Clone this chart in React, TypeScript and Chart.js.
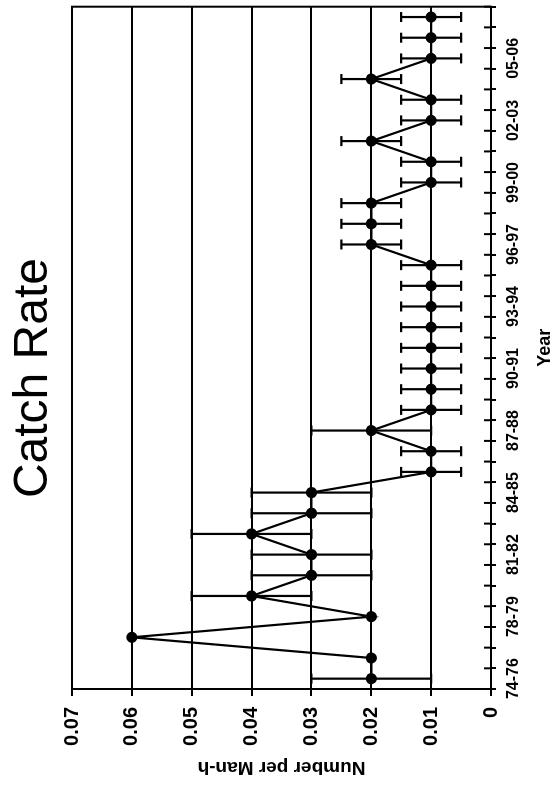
import React, { useEffect, useRef } from 'react';
import { Chart, registerables } from 'chart.js';

Chart.register(...registerables);

const TITLE = 'Catch Rate';
const X_TITLE = 'Year';
const Y_TITLE = 'Number per Man-h';

const categories = [
  '74-76', '76-77', '77-78', '78-79', '79-80', '80-81', '81-82', '82-83', '83-84', '84-85',
  '85-86', '86-87', '87-88', '88-89', '89-90', '90-91', '91-92', '92-93', '93-94', '94-95',
  '95-96', '96-97', '97-98', '98-99', '99-00', '00-01', '01-02', '02-03', '03-04', '04-05',
  '05-06', '06-07', '07-08',
];

const catchRate = [
  0.02, 0.02, 0.06, 0.02, 0.04, 0.03, 0.03, 0.04, 0.03, 0.03,
  0.01, 0.01, 0.02, 0.01, 0.01, 0.01, 0.01, 0.01, 0.01, 0.01,
  0.01, 0.02, 0.02, 0.02, 0.01, 0.01, 0.02, 0.01, 0.01, 0.02,
  0.01, 0.01, 0.01,
];

const errorHalf = [
  0.01, 0, 0, 0, 0.01, 0.01, 0.01, 0.01, 0.01, 0.01,
  0.005, 0.005, 0.01, 0.005, 0.005, 0.005, 0.005, 0.005, 0.005, 0.005,
  0.005, 0.005, 0.005, 0.005, 0.005, 0.005, 0.005, 0.005, 0.005, 0.005,
  0.005, 0.005, 0.005,
];

const valueTickLabels = ['0', '0.01', '0.02', '0.03', '0.04', '0.05', '0.06', '0.07'];

const FONT = '"Liberation Sans", Arial, Helvetica, sans-serif';

export default function App() {
  const ref = useRef<HTMLCanvasElement>(null);

  useEffect(() => {
    const canvas = ref.current;
    if (!canvas) return;

    const framePlugin = {
      id: 'frame',
      beforeDatasetsDraw(chart: any) {
        const { ctx, chartArea } = chart;
        ctx.save();
        ctx.strokeStyle = '#000';
        ctx.lineWidth = 2;
        ctx.strokeRect(chartArea.left, chartArea.top, chartArea.right - chartArea.left, chartArea.bottom - chartArea.top);
        ctx.restore();
      },
    };

    const errorBarPlugin = {
      id: 'errorBars',
      beforeDatasetsDraw(chart: any) {
        const { ctx } = chart;
        const xs = chart.scales.x;
        const ys = chart.scales.y;
        ctx.save();
        ctx.strokeStyle = '#000';
        ctx.lineWidth = 2.2;
        const cap = 5;
        catchRate.forEach((v, i) => {
          const e = errorHalf[i];
          if (!e) return;
          const x = xs.getPixelForValue(i);
          const y1 = ys.getPixelForValue(v - e);
          const y2 = ys.getPixelForValue(v + e);
          ctx.beginPath();
          ctx.moveTo(x, y1);
          ctx.lineTo(x, y2);
          ctx.moveTo(x - cap, y1);
          ctx.lineTo(x + cap, y1);
          ctx.moveTo(x - cap, y2);
          ctx.lineTo(x + cap, y2);
          ctx.stroke();
        });
        ctx.restore();
      },
    };

    const innerTicksPlugin = {
      id: 'innerTicks',
      afterDraw(chart: any) {
        const { ctx, chartArea } = chart;
        const xs = chart.scales.x;
        const w = xs.getPixelForValue(1) - xs.getPixelForValue(0);
        ctx.save();
        ctx.strokeStyle = '#000';
        ctx.lineWidth = 2;
        ctx.beginPath();
        for (let i = 0; i <= categories.length; i++) {
          const x = xs.getPixelForValue(0) + (i - 0.5) * w;
          ctx.moveTo(x, chartArea.bottom - 7);
          ctx.lineTo(x, chartArea.bottom);
        }
        ctx.stroke();
        ctx.restore();
      },
    };

    const titlePlugin = {
      id: 'bigTitle',
      afterDraw(chart: any) {
        const { ctx } = chart;
        ctx.save();
        ctx.fillStyle = '#000';
        ctx.font = `48px ${FONT}`;
        ctx.textAlign = 'center';
        ctx.textBaseline = 'alphabetic';
        ctx.fillText(TITLE, chart.width * 0.519, 47);
        ctx.restore();
      },
    };

    const chart = new Chart(canvas, {
      type: 'line',
      data: {
        labels: categories,
        datasets: [
          {
            label: TITLE,
            data: catchRate,
            borderColor: '#000',
            backgroundColor: '#000',
            borderWidth: 2.2,
            pointRadius: 4.5,
            pointStyle: 'circle',
            pointBackgroundColor: '#000',
            pointBorderColor: '#000',
            tension: 0,
            fill: false,
          },
        ],
      },
      options: {
        responsive: false,
        animation: false,
        devicePixelRatio: 1,
        layout: { padding: { top: 72, right: 5, left: 0, bottom: 0 } },
        plugins: {
          legend: { display: false },
          title: { display: false },
          tooltip: { enabled: false },
        },
        scales: {
          x: {
            type: 'category',
            offset: true,
            afterFit: (s: any) => {
              s.height = 65;
            },
            grid: {
              offset: true,
              drawOnChartArea: false,
              drawTicks: true,
              tickLength: 5,
              color: '#000',
              lineWidth: 2,
            },
            border: { display: true, color: '#000', width: 2 },
            ticks: {
              autoSkip: false,
              maxRotation: 0,
              minRotation: 0,
              padding: 8,
              color: '#000',
              font: { family: FONT, size: 16, weight: 'bold' },
              callback: (_v: any, i: number) => (i % 3 === 0 ? categories[i] : ''),
            },
            title: {
              display: true,
              text: X_TITLE,
              color: '#000',
              font: { family: FONT, size: 18, weight: 'bold' },
              padding: { top: 0, bottom: 0 },
            },
          },
          y: {
            min: 0,
            max: 0.07,
            afterFit: (s: any) => {
              s.width = 97;
            },
            grid: {
              drawOnChartArea: true,
              drawTicks: true,
              tickLength: 7,
              color: '#000',
              lineWidth: 2,
            },
            border: { display: true, color: '#000', width: 2 },
            ticks: {
              stepSize: 0.01,
              padding: 11,
              color: '#000',
              font: { family: FONT, size: 20, weight: 'bold' },
              callback: (_v: any, i: number) => valueTickLabels[i],
            },
            title: {
              display: true,
              text: Y_TITLE,
              color: '#000',
              font: { family: FONT, size: 19, weight: 'bold' },
              padding: { top: 7, bottom: 0 },
            },
          },
        },
      },
      plugins: [framePlugin, errorBarPlugin, innerTicksPlugin, titlePlugin],
    } as any);

    return () => chart.destroy();
  }, []);

  return (
    <div
      style={{
        position: 'absolute',
        left: 0,
        top: 0,
        width: 556,
        height: 786,
        overflow: 'hidden',
        background: '#fff',
      }}
    >
      <div
        style={{
          position: 'absolute',
          left: 0,
          top: 0,
          width: 786,
          height: 556,
          transformOrigin: '0 0',
          transform: 'translateY(786px) rotate(-90deg)',
        }}
      >
        <canvas ref={ref} width={786} height={556} style={{ display: 'block', width: 786, height: 556 }} />
      </div>
    </div>
  );
}
